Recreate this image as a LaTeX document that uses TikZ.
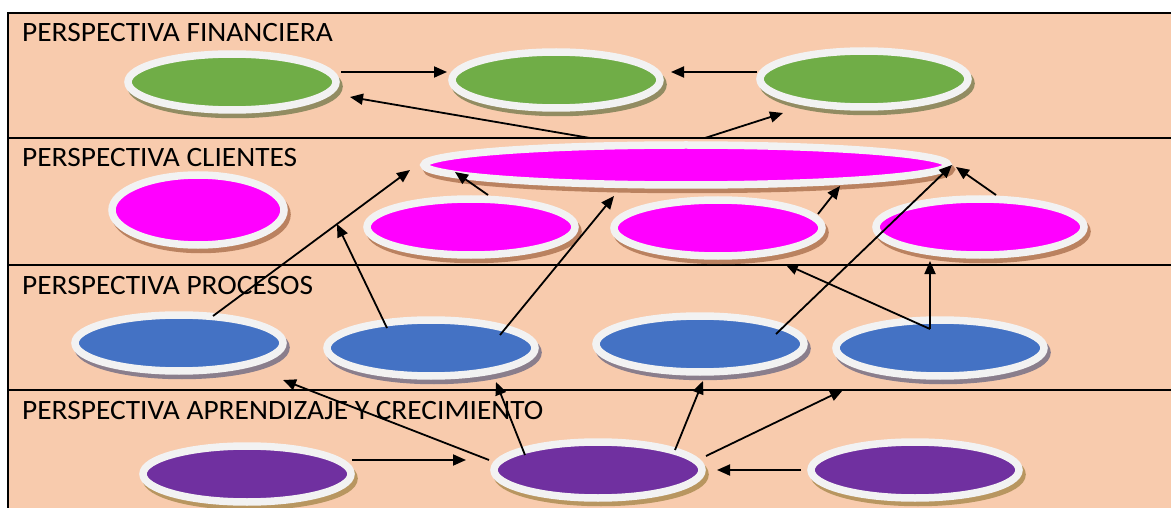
\documentclass[tikz,border=0pt]{standalone}
\usepackage{fontspec}
\setmainfont{Carlito}[FakeStretch=1.05]
\usetikzlibrary{shapes.geometric,arrows.meta,shadows}
\definecolor{band}{RGB}{248,203,173}
\definecolor{rim}{RGB}{242,242,242}
\definecolor{fgreen}{RGB}{112,173,71}
\definecolor{sgreen}{RGB}{146,140,98}
\definecolor{fmag}{RGB}{255,0,255}
\definecolor{smag}{RGB}{186,130,96}
\definecolor{fblue}{RGB}{68,114,196}
\definecolor{sblue}{RGB}{138,126,140}
\definecolor{fpurp}{RGB}{112,48,160}
\definecolor{spurp}{RGB}{184,150,96}
\begin{document}
\begin{tikzpicture}[x=1pt,y=-1pt,
  oval/.style 2 args={ellipse, inner sep=0pt, draw=rim, line width=7.5pt, fill=#1,
    general shadow={shadow xshift=3pt, shadow yshift=-4.5pt, fill=#2, draw=#2, line width=7.5pt}},
  std/.style={minimum width=208pt, minimum height=56pt},
  lab/.style={anchor=base west, inner sep=0pt, font=\fontsize{28}{32}\selectfont},
  sep/.style={line width=2pt},
  arr/.style={-{Triangle[length=13pt,width=11pt]}, line width=1.8pt}]
\useasboundingbox (0,0) rectangle (1171,508);
\clip (0,0) rectangle (1171,508);

% bands
\fill[band] (8,13) rectangle (1190,520);
\draw[sep] (1190,13) -- (8,13) -- (8,520);
\foreach \yy in {138,265,390} \draw[sep] (8,\yy) -- (1190,\yy);

% layer titles
\node[lab] (tf) at (22,42)  {PERSPECTIVA FINANCIERA};
\node[lab] (tc) at (22,167) {PERSPECTIVA CLIENTES};
\node[lab] (tp) at (22,294) {PERSPECTIVA PROCESOS};
\node[lab] (ta) at (22,419) {PERSPECTIVA APRENDIZAJE Y CRECIMIENTO};

% financial
\node[oval={fgreen}{sgreen}, std] (g1) at (232,82) {};
\node[oval={fgreen}{sgreen}, std] (g2) at (556,80) {};
\node[oval={fgreen}{sgreen}, std] (g3) at (864,79) {};

% customers
\node[oval={fmag}{smag}, minimum width=524pt, minimum height=40pt] (cb) at (686,165) {};
\node[oval={fmag}{smag}, minimum width=172pt, minimum height=70pt] (c1) at (198,210) {};
\node[oval={fmag}{smag}, std] (c2) at (471,227) {};
\node[oval={fmag}{smag}, std] (c3) at (718,228) {};
\node[oval={fmag}{smag}, std] (c4) at (980,227) {};

% processes
\node[oval={fblue}{sblue}, std] (p1) at (179,343) {};
\node[oval={fblue}{sblue}, std] (p2) at (431,348) {};
\node[oval={fblue}{sblue}, std] (p3) at (700,344) {};
\node[oval={fblue}{sblue}, std] (p4) at (940,348) {};

% learning and growth
\node[oval={fpurp}{spurp}, std] (a1) at (247,474) {};
\node[oval={fpurp}{spurp}, std] (a2) at (598,470) {};
\node[oval={fpurp}{spurp}, std] (a3) at (915,470) {};

% cause-effect links
\draw[arr] ([shift={(109,-10)}]g1.center) -- ([shift={(-109,-8)}]g2.center);
\draw[arr] ([shift={(-107,-7)}]g3.center) -- ([shift={(115,-8)}]g2.center);
\draw[arr] ([shift={(-96,-27)}]cb.center) -- ([shift={(118,15)}]g1.center);
\draw[arr] ([shift={(19,-27)}]cb.center) -- ([shift={(-81,34)}]g3.center);

\draw[arr] ([shift={(34,-27)}]p1.center) -- ([shift={(-276,5)}]cb.center);
\draw[arr] ([shift={(17,-32)}]c2.center) -- ([shift={(-231,7)}]cb.center);
\draw[arr] ([shift={(-44,-20)}]p2.center) -- ([shift={(-134,-3)}]c2.center);
\draw[arr] ([shift={(69,-13)}]p2.center) -- ([shift={(-72,31)}]cb.center);
\draw[arr] ([shift={(100,-14)}]c3.center) -- ([shift={(154,21)}]cb.center);
\draw[arr] ([shift={(76,-10)}]p3.center) -- ([shift={(266,0)}]cb.center);
\draw[arr] ([shift={(16,-32)}]c4.center) -- ([shift={(270,2)}]cb.center);
\draw[arr] ([shift={(-10,-19)}]p4.center) -- ([shift={(67,36)}]c3.center);
\draw[arr] ([shift={(-10,-19)}]p4.center) -- ([shift={(-50,34)}]c4.center);

\draw[arr] ([shift={(-109,-10)}]a2.center) -- ([shift={(104,37)}]p1.center);
\draw[arr] ([shift={(-73,-15)}]a2.center) -- ([shift={(65,34)}]p2.center);
\draw[arr] ([shift={(105,-14)}]a1.center) -- ([shift={(-132,-10)}]a2.center);
\draw[arr] ([shift={(77,-20)}]a2.center) -- ([shift={(3,37)}]p3.center);
\draw[arr] ([shift={(108,-14)}]a2.center) -- ([shift={(-97,42)}]p4.center);
\draw[arr] ([shift={(-114,0)}]a3.center) -- ([shift={(119,0)}]a2.center);
\end{tikzpicture}
\end{document}
